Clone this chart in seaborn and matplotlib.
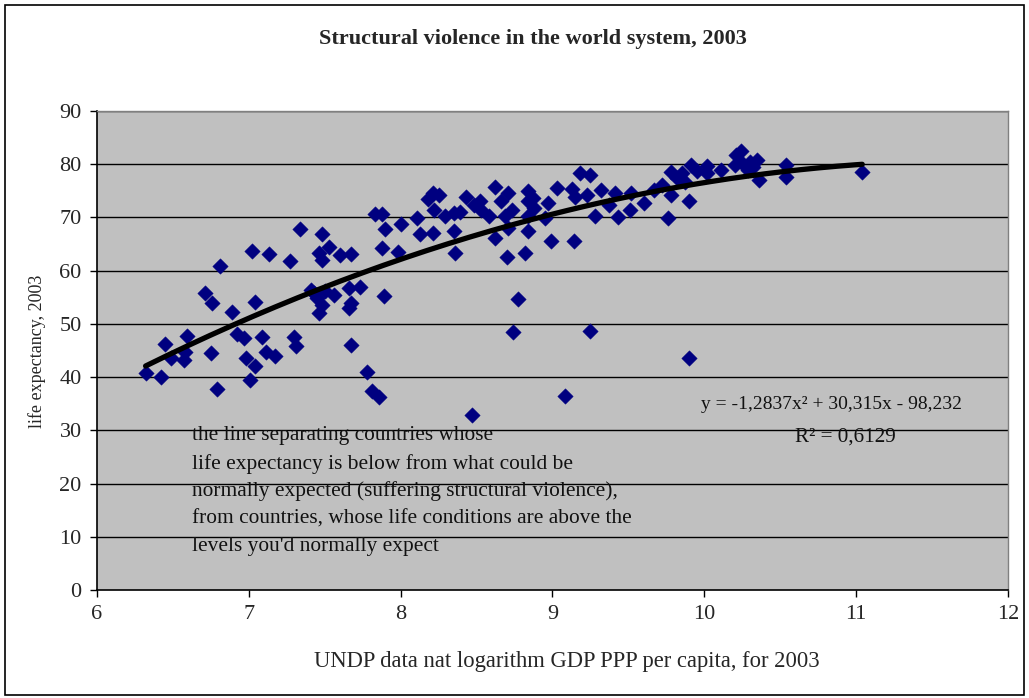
import numpy as np
import pandas as pd
import matplotlib
matplotlib.use("Agg")
import matplotlib.pyplot as plt
import seaborn as sns
from matplotlib.patches import Rectangle

# ---------------- data ----------------
log_gdp = [
    6.32, 6.42, 6.45, 6.49, 6.57, 6.58, 6.59, 6.71, 6.75, 6.76, 6.79, 6.81, 6.89, 6.92,
    6.97, 6.98, 7.01, 7.02, 7.04, 7.04, 7.09, 7.11, 7.13, 7.17, 7.27, 7.30, 7.31, 7.34,
    7.41, 7.43, 7.45, 7.46, 7.46, 7.48, 7.48, 7.48, 7.50, 7.53, 7.56, 7.60, 7.66, 7.66,
    7.67, 7.67, 7.67, 7.73, 7.78, 7.81, 7.86, 7.83, 7.88, 7.88, 7.89, 7.90, 7.98, 8.00,
    8.11, 8.13, 8.21, 8.21, 8.25, 8.18, 8.22, 8.29, 8.35, 8.35, 8.36, 8.39, 8.43, 8.47,
    8.48, 8.52, 8.53, 8.58, 8.62, 8.62, 8.66, 8.69, 8.70, 8.71, 8.71, 8.73, 8.74, 8.77,
    8.82, 8.84, 8.84, 8.87, 8.88, 8.84, 8.84, 8.95, 8.97, 8.99, 9.03, 9.08, 9.13, 9.14,
    9.15, 9.18, 9.23, 9.25, 9.25, 9.28, 9.32, 9.37, 9.41, 9.43, 9.51, 9.52, 9.60, 9.67,
    9.72, 9.76, 9.78, 9.78, 9.82, 9.85, 9.87, 9.90, 9.90, 9.91, 9.95, 10.02, 10.02, 10.11,
    10.20, 10.21, 10.24, 10.25, 10.29, 10.30, 10.32, 10.35, 10.36, 10.54, 10.54, 11.04,
]
life_exp = [
    40.8, 40.0, 46.2, 43.5, 43.2, 44.8, 47.8, 55.8, 44.6, 53.9, 37.7, 60.8, 52.2, 48.1,
    47.3, 43.5, 39.5, 63.7, 42.1, 54.2, 47.6, 44.7, 63.1, 44.0, 61.8, 47.6, 45.9, 67.9,
    56.4, 55.8, 54.8, 52.0, 63.3, 66.9, 62.0, 53.6, 56.1, 64.4, 55.5, 63.0, 56.7, 52.9,
    53.9, 63.2, 46.1, 56.9, 41.0, 37.3, 36.3, 70.7, 70.7, 64.2, 55.3, 67.9, 63.6, 68.8,
    69.9, 66.9, 67.1, 74.6, 74.2, 73.4, 71.4, 70.2, 70.8, 67.5, 63.3, 71.1, 73.9, 32.8,
    72.4, 73.0, 71.4, 70.2, 75.8, 66.1, 73.0, 70.2, 62.5, 74.6, 68.0, 71.4, 48.4, 54.6,
    63.3, 74.9, 73.0, 73.6, 71.7, 70.2, 67.4, 69.9, 72.7, 65.5, 75.5, 36.5, 75.3, 65.5,
    73.9, 78.3, 74.2, 78.0, 48.6, 70.2, 75.2, 72.4, 74.6, 70.1, 71.4, 74.6, 72.7, 75.2,
    76.1, 69.9, 74.2, 78.6, 77.5, 78.3, 76.7, 73.0, 43.5, 79.9, 78.8, 79.7, 78.3, 78.9,
    79.9, 81.8, 82.4, 80.3, 78.9, 80.5, 79.5, 80.8, 77.1, 79.9, 77.6, 78.5,
]

# polynomial trend line reported on the chart
coef_a, coef_b, coef_c = -1.2837, 30.315, -98.232
r_squared_text = "R\u00b2 = 0,6129"
equation_text = "y = -1,2837x\u00b2 + 30,315x - 98,232"

title = "Structural violence in the world system, 2003"
x_label = "UNDP data nat logarithm GDP PPP per capita, for 2003"
y_label = "life expectancy, 2003"
x_ticks = [6, 7, 8, 9, 10, 11, 12]
y_ticks = [0, 10, 20, 30, 40, 50, 60, 70, 80, 90]
annotation_lines = [
    "the line separating countries whose",
    "life expectancy is below from what could be",
    "normally expected (suffering structural violence),",
    "from countries, whose life conditions are above the",
    "levels you'd normally expect",
]

df = pd.DataFrame({"gdp": log_gdp, "life": life_exp})
trend_x = np.linspace(min(log_gdp), max(log_gdp), 200)
trend = pd.DataFrame({"gdp": trend_x,
                      "life": coef_a * trend_x ** 2 + coef_b * trend_x + coef_c})

# ---------------- plot ----------------
sns.set_theme(style="white")
plt.rcParams["font.family"] = ["Liberation Serif", "DejaVu Serif"]

fig = plt.figure(figsize=(10.29, 6.98), dpi=100)
ax = fig.add_axes([97 / 1029, 1 - 590 / 698, (1008 - 97) / 1029, (590 - 111) / 698])
ax.set_facecolor("#C0C0C0")

sns.scatterplot(data=df, x="gdp", y="life", ax=ax, marker="D", s=62,
                color="#000080", edgecolor="#000080", linewidth=0.3, zorder=3)
sns.lineplot(data=trend, x="gdp", y="life", ax=ax, color="black",
             linewidth=3.8, zorder=4, solid_capstyle="round")

ax.set_xlim(6, 12)
ax.set_ylim(0, 90)
ax.set_xticks(x_ticks)
ax.set_yticks(y_ticks)
ax.set_xticklabels([str(t) for t in x_ticks], fontsize=16)
ax.set_yticklabels([str(t) for t in y_ticks], fontsize=16)
ax.tick_params(axis="x", direction="out", length=5, width=1, color="black",
               pad=6, bottom=True)
ax.tick_params(axis="y", direction="out", length=5, width=1, color="black",
               pad=6, left=True)
ax.set_xlabel("")
ax.set_ylabel("")
for yv in y_ticks[1:]:
    ax.axhline(yv, color="black", linewidth=1, zorder=1)
ax.grid(False)
for side in ["top", "right"]:
    ax.spines[side].set_color("#808080")
    ax.spines[side].set_linewidth(1)
for side in ["left", "bottom"]:
    ax.spines[side].set_color("black")
    ax.spines[side].set_linewidth(1.2)

# annotations
y0 = (590 - 436) / 5.32
step = 27.75 / 5.32
for i, line in enumerate(annotation_lines):
    ax.text(6.625, y0 - i * step, line, fontsize=15.4, va="center", ha="left",
            color="#111111", zorder=5)
ax.text(11.695, (590 - 405) / 5.32, equation_text, fontsize=14.0, va="center",
        ha="right", color="#111111", zorder=5)
ax.text(10.93, (590 - 437) / 5.32, r_squared_text, fontsize=15.2, va="center",
        ha="center", color="#111111", zorder=5)

fig.text(0.518, 1 - 39 / 698, title, fontsize=16, fontweight="bold",
         ha="center", va="center")
fig.text(0.551, 1 - 662 / 698, x_label, fontsize=16.3, ha="center", va="center")
fig.text(37 / 1029, 1 - 351 / 698, y_label, fontsize=13, rotation=90,
         ha="center", va="center")

# outer chart border
fig.patches.append(Rectangle((5 / 1029, 3 / 698), 1 - 10 / 1029, 1 - 8 / 698,
                             transform=fig.transFigure, fill=False,
                             edgecolor="black", linewidth=1.2))

fig.savefig("out.png", dpi=100, facecolor="white")
